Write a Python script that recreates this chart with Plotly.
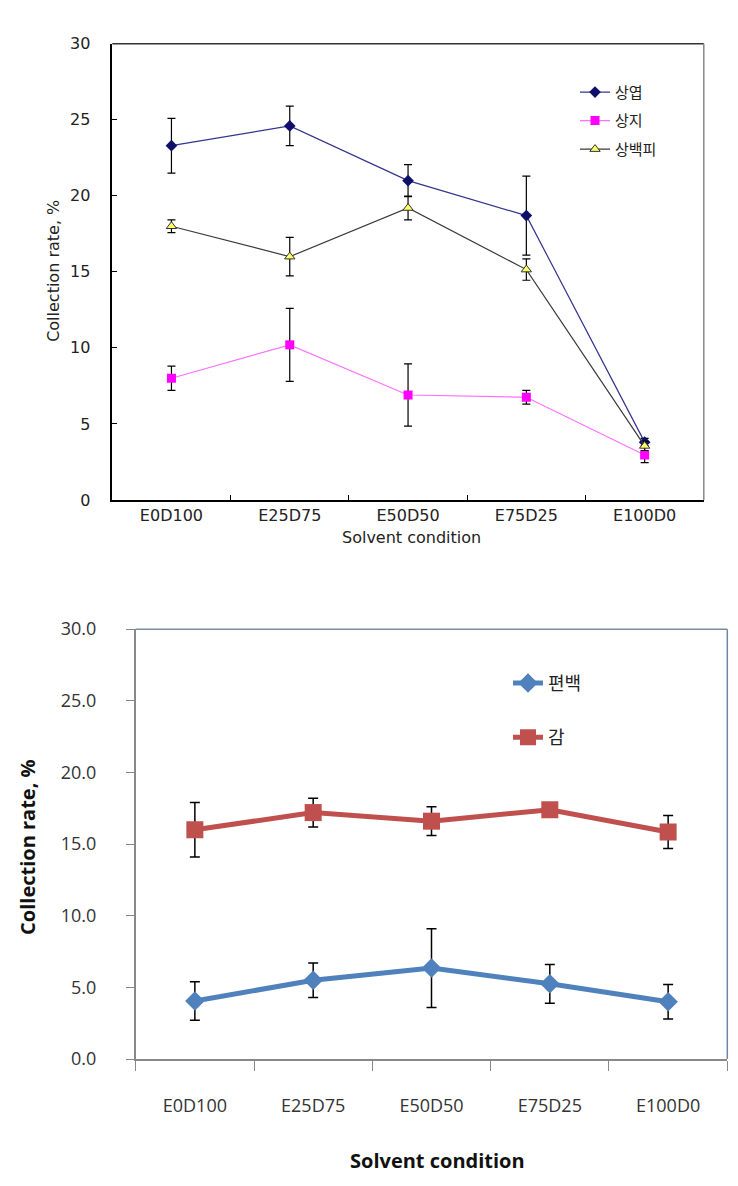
import plotly.graph_objects as go

categories = ['E0D100', 'E25D75', 'E50D50', 'E75D25', 'E100D0']

# top chart
leaf_name = '상엽'
leaf_vals = [23.3, 24.6, 21.0, 18.7, 3.8]
leaf_err = [1.8, 1.3, 1.05, 2.6, 0.25]
twig_name = '상지'
twig_vals = [8.0, 10.2, 6.9, 6.75, 2.95]
twig_err = [0.8, 2.4, 2.05, 0.45, 0.5]
bark_name = '상백피'
bark_vals = [18.0, 16.0, 19.2, 15.15, 3.55]
bark_err = [0.42, 1.27, 0.78, 0.7, 0.3]
top_yticks = [0, 5, 10, 15, 20, 25, 30]

# bottom chart
cypress_name = '편백'
cypress_vals = [4.05, 5.5, 6.35, 5.25, 4.0]
cypress_err = [1.35, 1.2, 2.75, 1.35, 1.2]
persim_name = '감'
persim_vals = [16.0, 17.2, 16.6, 17.4, 15.85]
persim_err = [1.9, 1.0, 1.0, 0.2, 1.15]
bot_yticks = [0, 5, 10, 15, 20, 25, 30]
bot_ytick_text = ['0.0', '5.0', '10.0', '15.0', '20.0', '25.0', '30.0']

W, H = 738, 1186
def px_x(p):
    return p / W
def px_y(p):
    return 1 - p / H

fig = go.Figure()

def err(arr, w, t=1.2):
    return dict(type='data', array=arr, visible=True, color='black', thickness=t, width=w)

fig.add_trace(go.Scatter(x=categories, y=leaf_vals, name=leaf_name, mode='lines+markers',
                         line=dict(color='#34348f', width=1.2),
                         marker=dict(symbol='diamond', size=9, color='#10106a'),
                         error_y=err(leaf_err, 4), xaxis='x', yaxis='y', legend='legend',
                         legendgroup='a'))
fig.add_trace(go.Scatter(x=categories, y=twig_vals, name=twig_name, mode='lines+markers',
                         line=dict(color='#ff70ff', width=1.2),
                         marker=dict(symbol='square', size=9, color='#ff00ff'),
                         error_y=err(twig_err, 4), xaxis='x', yaxis='y', legend='legend',
                         legendgroup='b'))
fig.add_trace(go.Scatter(x=categories, y=bark_vals, name=bark_name, mode='lines+markers',
                         line=dict(color='#3a3a3a', width=1.2),
                         marker=dict(symbol='triangle-up', size=9, color='#ffff66',
                                     line=dict(color='#333333', width=1)),
                         error_y=err(bark_err, 4), xaxis='x', yaxis='y', legend='legend',
                         legendgroup='c'))

fig.add_trace(go.Scatter(x=categories, y=cypress_vals, name=cypress_name, mode='lines+markers',
                         line=dict(color='#4f81bd', width=5),
                         marker=dict(symbol='diamond', size=15, color='#4f81bd'),
                         error_y=err(cypress_err, 5, 1.5), xaxis='x2', yaxis='y2', legend='legend2',
                         legendgroup='d'))
fig.add_trace(go.Scatter(x=categories, y=persim_vals, name=persim_name, mode='lines+markers',
                         line=dict(color='#c0504d', width=5),
                         marker=dict(symbol='square', size=17, color='#c0504d'),
                         error_y=err(persim_err, 5, 1.5), xaxis='x2', yaxis='y2', legend='legend2',
                         legendgroup='e'))

top_font = dict(family='DejaVu Sans', size=16, color='#222222')
bot_font = dict(family='Open Sans', size=18, color='#333333')

fig.update_layout(
    width=W, height=H,
    margin=dict(l=0, r=0, t=0, b=0),
    paper_bgcolor='white', plot_bgcolor='white',
    showlegend=True,
    xaxis=dict(domain=[px_x(104.3), px_x(695.8)], anchor='y', type='category',
               range=[-0.5, 4.5], tickson='boundaries', ticks='inside', ticklen=5,
               tickcolor='black', showline=True, linecolor='black', linewidth=1.5,
               showgrid=False, zeroline=False, tickfont=top_font, ticklabelstandoff=0),
    yaxis=dict(domain=[px_y(488.8), px_y(23.3)], anchor='x', range=[0, 30],
               tickvals=top_yticks, ticks='inside', ticklen=5, tickcolor='black',
               showline=True, linecolor='black', linewidth=1.5, showgrid=False,
               zeroline=False, tickfont=top_font, ticklabelstandoff=17),
    xaxis2=dict(domain=[px_x(127.7), px_x(719.3)], anchor='y2', type='category',
                range=[-0.5, 4.5], tickson='boundaries', ticks='outside', ticklen=10,
                tickcolor='#888888', showline=True, linecolor='#888888', linewidth=1.5,
                showgrid=False, zeroline=False, tickfont=bot_font, ticklabelstandoff=30),
    yaxis2=dict(domain=[px_y(1059.5), px_y(620.7)], anchor='x2', range=[0, 30],
                tickvals=bot_yticks, ticktext=bot_ytick_text, ticks='outside', ticklen=8,
                tickcolor='#888888', showline=True, linecolor='#888888', linewidth=1.5,
                showgrid=False, zeroline=False, tickfont=bot_font, ticklabelstandoff=26),
    legend=dict(x=px_x(567), y=px_y(56), xanchor='left', yanchor='top',
                font=dict(family='Noto Sans CJK KR', size=15, color='#222222'),
                bgcolor='rgba(0,0,0,0)', tracegroupgap=6),
    legend2=dict(x=px_x(500), y=px_y(657), xanchor='left', yanchor='top',
                 font=dict(family='Noto Sans CJK KR', size=18, color='#222222'),
                 bgcolor='rgba(0,0,0,0)', tracegroupgap=28),
    shapes=[
        dict(type='line', xref='x domain', yref='y domain', x0=0, x1=1, y0=1, y1=1,
             line=dict(color='#333333', width=1.5)),
        dict(type='line', xref='x domain', yref='y domain', x0=1, x1=1, y0=0, y1=1,
             line=dict(color='#888888', width=1.5)),
        dict(type='line', xref='x2 domain', yref='y2 domain', x0=0, x1=1, y0=1, y1=1,
             line=dict(color='#7a8aa3', width=1.5)),
        dict(type='line', xref='x2 domain', yref='y2 domain', x0=1, x1=1, y0=0, y1=1,
             line=dict(color='#6f86aa', width=1.5)),
    ],
    annotations=[
        dict(text='Solvent condition', xref='paper', yref='paper', x=px_x(403), y=px_y(527),
             showarrow=False, font=top_font, xanchor='center', yanchor='middle'),
        dict(text='Collection rate, %', xref='paper', yref='paper', x=px_x(46), y=px_y(255),
             showarrow=False, font=top_font, textangle=-90, xanchor='center', yanchor='middle'),
        dict(text='<b>Solvent condition</b>', xref='paper', yref='paper', x=px_x(430), y=px_y(1163),
             showarrow=False, font=dict(family='Open Sans', size=20, color='#111111'),
             xanchor='center', yanchor='middle'),
        dict(text='<b>Collection rate, %</b>', xref='paper', yref='paper', x=px_x(20), y=px_y(843),
             showarrow=False, font=dict(family='Open Sans', size=20, color='#111111'),
             textangle=-90, xanchor='center', yanchor='middle'),
    ],
)

fig.write_html('out.html')
